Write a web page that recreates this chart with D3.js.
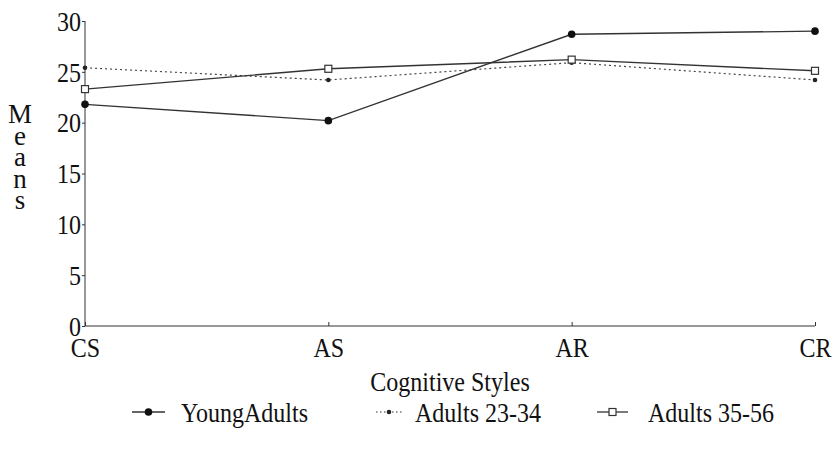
<!DOCTYPE html>
<html><head><meta charset="utf-8">
<script src="https://cdn.jsdelivr.net/npm/d3@7"></script>
<style>body{margin:0;background:#fff}text{font-family:"Liberation Serif","Times New Roman",serif;fill:#111}</style>
</head><body><svg id="c" width="836" height="450"></svg>
<script>
const categories = ["CS","AS","AR","CR"];
const seriesNames = ["YoungAdults","Adults 23-34","Adults 35-56"];
const youngAdults = [21.8, 20.2, 28.7, 29.0];
const adults2334 = [25.4, 24.2, 25.9, 24.2];
const adults3556 = [23.3, 25.3, 26.2, 25.1];
const yTicks = [0,5,10,15,20,25,30];
const yLabel = "Means";
const xLabel = "Cognitive Styles";

const FS = "27px", SX = 0.89;
const svg = d3.select("#c");
const L = 85, R = 815, T = 21, B = 326;
const x = d3.scalePoint().domain(categories).range([L, R]);
const y = d3.scaleLinear().domain([0,30]).range([B, T]);

function label(px, py, txt, anchor){
  const g = svg.append("g").attr("transform",`translate(${px},${py}) scale(${SX},1)`);
  return g.append("text").attr("text-anchor",anchor||"start").style("font-size",FS).text(txt);
}

// axes
const ya = svg.append("g").attr("transform",`translate(${L},0)`)
  .call(d3.axisLeft(y).tickValues(yTicks).tickSize(3).tickPadding(1));
ya.selectAll("text").style("font-size",FS).style("font-family","Liberation Serif").attr("fill","#111")
  .attr("x",-4/SX).attr("transform",`scale(${SX},1)`).attr("dy","0.34em");
ya.selectAll("line,path").attr("stroke","#333");
ya.select(".domain").attr("d",`M0,${T}V${B}`);

const xa = svg.append("g").attr("transform",`translate(0,${B})`)
  .call(d3.axisBottom(x).tickSize(-4).tickPadding(8));
xa.selectAll("text").style("font-size",FS).style("font-family","Liberation Serif").attr("fill","#111")
  .attr("y",31).attr("dy",null).attr("transform",`scale(${SX},1)`);
xa.selectAll("line,path").attr("stroke","#333");
xa.select(".domain").attr("d",`M${L},0H${R}`);

// y label: vertical upright letters in one text element
svg.append("text").attr("x",20).attr("y",99)
  .style("font-size",FS)
  .style("writing-mode","vertical-rl")
  .style("text-orientation","upright")
  .style("letter-spacing","-8.5px")
  .text(yLabel);

label((L+R)/2, 391, xLabel, "middle");

const data = [youngAdults, adults2334, adults3556];
const line = d3.line().x((d,i)=>x(categories[i])).y(d=>y(d));

data.forEach((vals,k)=>{
  svg.append("path").attr("d",line(vals)).attr("fill","none")
    .attr("stroke", k===1?"#444":"#333").attr("stroke-width",k===1?1.2:1.4)
    .attr("stroke-dasharray",k===1?"2,3":null);
});
function marker(g,k,cx,cy){
  if(k===0) g.append("circle").attr("cx",cx).attr("cy",cy).attr("r",3.8).attr("fill","#111");
  else if(k===1) g.append("circle").attr("cx",cx).attr("cy",cy).attr("r",2.3).attr("fill","#222");
  else g.append("rect").attr("x",cx-3.5).attr("y",cy-3.5).attr("width",7).attr("height",7).attr("fill","#fff").attr("stroke","#333").attr("stroke-width",1.2);
}
const mg = svg.append("g");
data.forEach((vals,k)=>vals.forEach((v,i)=>marker(mg,k,x(categories[i]),y(v))));

// legend
const legSym = [[132,165],[376,402],[597,628]];
const legText = [181,415,648];
const ly = 412;
seriesNames.forEach((n,k)=>{
  svg.append("line").attr("x1",legSym[k][0]).attr("x2",legSym[k][1]).attr("y1",ly).attr("y2",ly)
    .attr("stroke","#333").attr("stroke-width",k===1?1:1.3).attr("stroke-dasharray",k===1?"1.5,2.5":null);
  marker(svg,k,(legSym[k][0]+legSym[k][1])/2,ly);
  label(legText[k], 422, n);
});
</script></body></html>
